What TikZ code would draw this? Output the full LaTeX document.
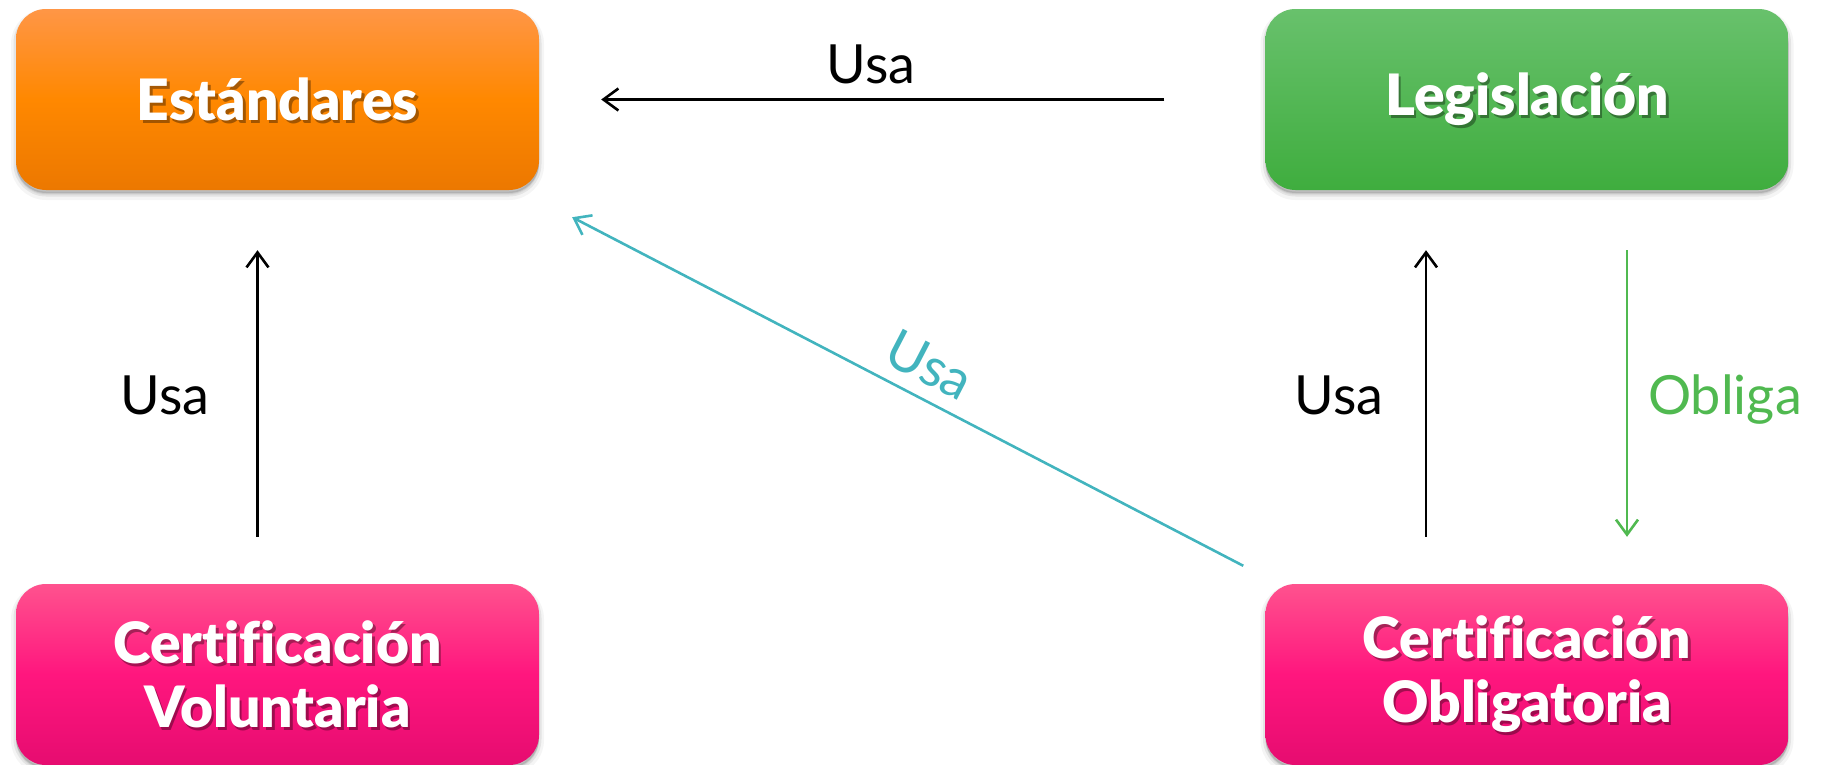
\documentclass[tikz,border=0pt]{standalone}
\usepackage{fontspec}
\setmainfont{Lato}[Ligatures={TeX,NoCommon},BoldFont={Lato Black}]
\usetikzlibrary{arrows.meta,shadows}
\definecolor{orTop}{RGB}{255,150,70}
\definecolor{orMid}{RGB}{255,136,0}
\definecolor{orBot}{RGB}{236,120,0}
\definecolor{grTop}{RGB}{104,193,108}
\definecolor{grBot}{RGB}{63,173,62}
\definecolor{pkTop}{RGB}{255,82,142}
\definecolor{pkMid}{RGB}{255,22,126}
\definecolor{pkBot}{RGB}{230,12,112}
\definecolor{teal}{RGB}{66,180,190}
\definecolor{grArrow}{RGB}{80,185,80}
\begin{document}
\begin{tikzpicture}[x=1pt,y=-1pt,
  box/.style={rounded corners=30pt, minimum width=523pt, minimum height=181pt, inner sep=0pt,
    general shadow={fill=black, draw=black, line width=10pt, opacity=0.04, shadow yshift=-5pt},
    general shadow={fill=black, draw=black, line width=5pt, opacity=0.07, shadow yshift=-4pt},
    general shadow={fill=black, opacity=0.12, shadow yshift=-3pt}},
  orbox/.style={box, top color=orTop, bottom color=orBot, middle color=orMid},
  grbox/.style={box, top color=grTop, bottom color=grBot},
  pkbox/.style={box, top color=pkTop, bottom color=pkBot, middle color=pkMid},
  btxt/.style={font=\fontsize{57}{64}\selectfont\bfseries, align=center, text=white, inner sep=0pt},
  bshadow/.style={btxt, text=black, text opacity=0.35},
  lbl/.style={font=\fontsize{54}{60}\selectfont, inner sep=0pt, anchor=base},
  arr/.style={line width=2.6pt, -{Straight Barb[length=15pt,width=22pt]}}
]
\useasboundingbox (0,0) rectangle (1827,764);

\node[orbox] (est) at (277.5,99.5) {};
\node[grbox] (leg) at (1527,99.5) {};
\node[pkbox] (cv) at (277.5,674.5) {};
\node[pkbox] (co) at (1527,674.5) {};

\node[bshadow] at ([shift={(2.5pt,-2.5pt)}]est.center) {Estándares};
\node[btxt] (estt) at (est.center) {Estándares};
\node[bshadow] at ([shift={(2.5pt,-2.5pt)}]leg.center) {Legislación};
\node[btxt] (legt) at (leg.center) {Legislación};
\node[bshadow] at ([shift={(2.5pt,-2.5pt)}]cv.center) {Certificación\\Voluntaria};
\node[btxt] (cvt) at (cv.center) {Certificación\\Voluntaria};
\node[bshadow] at ([shift={(2.5pt,-2.5pt)}]co.center) {Certificación\\Obligatoria};
\node[btxt] (cot) at (co.center) {Certificación\\Obligatoria};

% connectors
\draw[arr, shorten <=101pt, shorten >=62pt] (leg.west) -- (est.east);
\draw[arr, shorten <=47pt, shorten >=60pt] ([xshift=-20pt]cv.north) -- ([xshift=-20pt]est.south);
\draw[arr, shorten <=47pt, shorten >=60pt] ([xshift=-101pt]co.north) -- ([xshift=-101pt]leg.south);
\draw[arr, grArrow, shorten <=60pt, shorten >=47pt] ([xshift=100pt]leg.south) -- ([xshift=100pt]co.north);
\draw[arr, teal] ([shift={(-22pt,18pt)}]co.north west) -- ([shift={(33pt,-27pt)}]est.south east)
  node[pos=0.49, sloped, above=13pt, font=\fontsize{54}{60}\selectfont, inner sep=0pt, text=teal] (usad) {Usa};

% labels
\node[lbl] (usat) at (871,83.5) {Usa};
\node[lbl] (usal) at (165,414.5) {Usa};
\node[lbl] (usam) at (1339,414.5) {Usa};
\node[lbl, anchor=base west, text=grArrow] (obl) at (1648,414.5) {Obliga};
\end{tikzpicture}
\end{document}
